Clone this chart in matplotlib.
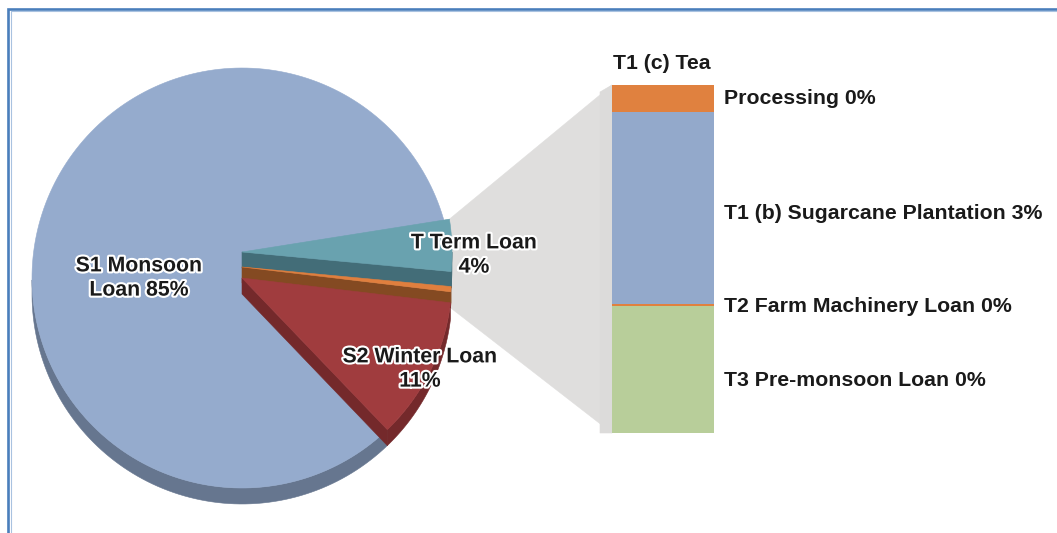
import numpy as np
import matplotlib.pyplot as plt
from matplotlib.patches import Polygon
import matplotlib.patheffects as pe

plt.rcParams['font.family'] = ['Liberation Sans', 'DejaVu Sans']
plt.rcParams['font.weight'] = 'bold'

# Data ------------------------------------------------------------
# breakdown of the term loan (bar), bottom to top
bar_names = ['T3 Pre-monsoon Loan', 'T2 Farm Machinery Loan', 'T1 (b) Sugarcane Plantation', 'Processing']
bar_vals = [1.46, 0.02, 2.21, 0.31]
bar_labels = ['T3 Pre-monsoon Loan 0%', 'T2 Farm Machinery Loan 0%',
              'T1 (b) Sugarcane Plantation 3%', 'Processing 0%']
bar_header = 'T1 (c) Tea'
bar_colors = ['#B8CE9A', '#E0813F', '#93A9CB', '#E0813F']

# main pie (counter-clockwise from the start angle)
pie_names = ['S1 Monsoon\nLoan', 'S2 Winter Loan\n', '', 'T Term Loan\n']
pie_vals = [85, 11, 0.4, sum(bar_vals)]
pie_top = ['#95ABCD', '#A03C3E', '#E07F3E', '#69A2AF']
pie_side = ['#66768F', '#74292B', '#844A22', '#436D78']

# Layout ----------------------------------------------------------
W, H = 1057, 533
cx, cy = 242, 278
rx, ry = 210, 210
depth = 16
lift = [0, 0, 11, 26]          # vertical explode of each slice
start = 9
label_pos = [(139, 278), (420, 369), None, (474, 255)]
bar_label_dy = [11, 1, 5, 0]
draw_order = [0, 3, 2, 1]
fs = 15.3

fig = plt.figure(figsize=(W / 100, H / 100), dpi=100)
ax = fig.add_axes([0, 0, 1, 1])
ax.set_xlim(0, W)
ax.set_ylim(H, 0)
ax.axis('off')


def rim_pt(t, lf=0):
    t = np.radians(t)
    return cx + rx * np.cos(t), cy - ry * np.sin(t) - lf


def poly(xy, color, z):
    ax.add_patch(Polygon(xy, closed=True, facecolor=color, edgecolor=color, lw=0.4, zorder=z))


total = sum(pie_vals)
bounds = start + np.concatenate([[0], np.cumsum(pie_vals)]) / total * 360

for k, i in enumerate(draw_order):
    t0, t1 = bounds[i], bounds[i + 1]
    lf = lift[i]
    ox, oy = cx, cy - lf
    ts = np.linspace(t0, t1, 200)
    x, y = rim_pt(ts, lf)
    z = 3 + k
    # outer rim, only where it faces the viewer
    vis = np.sin(np.radians(ts)) < 0
    if vis.sum() > 1:
        xa, ya = x[vis], y[vis]
        rim = np.column_stack([np.r_[xa, xa[::-1]], np.r_[ya, ya[::-1] + depth]])
        poly(rim, pie_side[i], z)
    # cut walls facing the viewer
    for t, show in [(t0, np.cos(np.radians(t0)) > 0), (t1, np.cos(np.radians(t1)) < 0)]:
        if show:
            ex, ey = rim_pt(t, lf)
            poly([(ox, oy), (ex, ey), (ex, ey + depth), (ox, oy + depth)], pie_side[i], z)
    # top face
    poly(np.column_stack([np.r_[ox, x], np.r_[oy, y]]), pie_top[i], z)

# slice labels
for i, name in enumerate(pie_names):
    if not name:
        continue
    pct = f'{pie_vals[i] / total * 100:.0f}%'
    txt = name + ('' if name.endswith('\n') else ' ') + pct
    lx, ly = label_pos[i]
    ax.text(lx, ly, txt, ha='center', va='center', fontsize=fs, color='#1A1A1A',
            linespacing=1.35, zorder=20,
            path_effects=[pe.withStroke(linewidth=3, foreground='white')])

# Bar of pie ------------------------------------------------------
bar_total = sum(bar_vals)
axb = fig.add_axes([612 / W, (H - 433) / H, 102 / W, 348 / H])
axb.set_xlim(-0.5, 0.5)
axb.set_ylim(0, bar_total)
axb.axis('off')
bottoms = np.r_[0, np.cumsum(bar_vals)[:-1]]
axb.bar(0, bar_vals, width=1, bottom=bottoms, color=bar_colors, linewidth=0)
for b, v, lab, dy in zip(bottoms, bar_vals, bar_labels, bar_label_dy):
    axb.annotate(lab, xy=(0.5, b + v / 2), xytext=(10, -dy), textcoords='offset pixels',
                 ha='left', va='center', fontsize=fs, color='#1A1A1A', annotation_clip=False)
axb.annotate(bar_header, xy=(-0.5, bar_total), xytext=(1, 22), textcoords='offset pixels',
             ha='left', va='center', fontsize=fs, color='#1A1A1A', annotation_clip=False)

# connector from the term-loan slice to the bar
fig.canvas.draw()
to_ax = ax.transData.inverted()
btl = to_ax.transform(axb.transData.transform((-0.5, bar_total)))
bbl = to_ax.transform(axb.transData.transform((-0.5, 0)))
p_top = rim_pt(bounds[4], lift[3])
qx, qy = rim_pt(bounds[2], lift[2])
p_bot = (qx, qy + depth)
poly([p_top, tuple(btl), tuple(bbl), p_bot, (cx, cy)], '#DFDEDD', 1)
poly([(btl[0] - 12, btl[1] + 7), tuple(btl), tuple(bbl), (bbl[0] - 12, bbl[1])], '#DCDBDA', 1.5)

# frame
ax.plot([8, 8, W], [H, 9, 9], color='#4A7EBB', lw=1.9, solid_joinstyle='miter', zorder=30)
ax.plot([10.5, 10.5, W], [H, 11, 11], color='#A9C2E0', lw=0.8, zorder=30)

fig.savefig('out.png', dpi=100)
